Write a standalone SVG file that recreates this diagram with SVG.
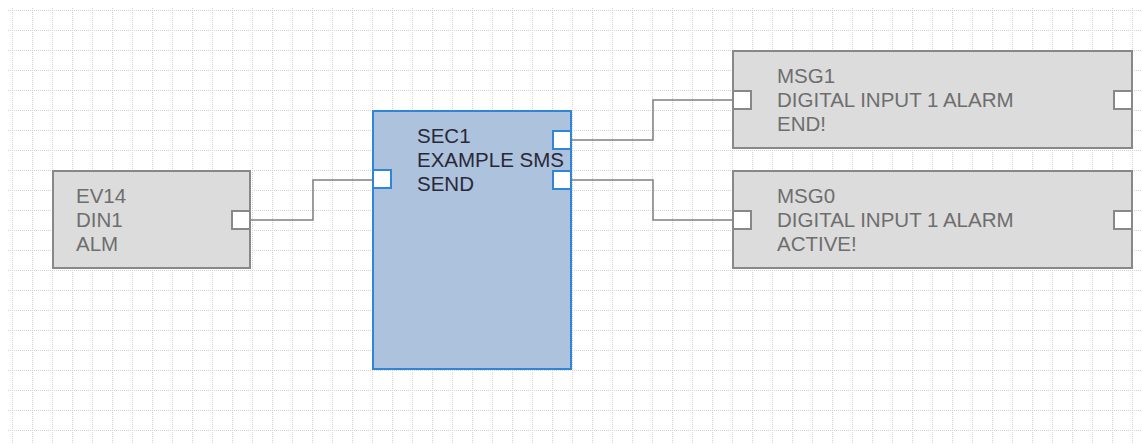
<svg xmlns="http://www.w3.org/2000/svg" width="1142" height="444" viewBox="0 0 1142 444">
<style>
.bg{fill:#ffffff}
.node{fill:#dcdcdc;stroke:#888888;stroke-width:2}
.sel{fill:#adc2dc;stroke:#2f86d8;stroke-width:2}
.port{fill:#ffffff;stroke:#888888;stroke-width:2}
.bport{fill:#ffffff;stroke:#2f86d8;stroke-width:2}
.conn path{fill:none;stroke:#808080;stroke-width:1.5}
text{font-family:"Liberation Sans",Arial,sans-serif;font-size:20.5px}
.t{fill:#6e6e6e}
.ts{fill:#2a2838}
</style>
<defs>
<pattern id="gp" x="12" y="10" width="20" height="20" patternUnits="userSpaceOnUse">
<line x1="0" y1="0.5" x2="20" y2="0.5" stroke="#d3d3d3" stroke-width="1" stroke-dasharray="1 1"/>
<line x1="0.5" y1="0" x2="0.5" y2="20" stroke="#d3d3d3" stroke-width="1" stroke-dasharray="1 1"/>
</pattern>
</defs>
<rect class="bg" x="0" y="0" width="1142" height="444"/>
<rect x="8" y="8" width="1134" height="436" fill="url(#gp)"/>
<g id="connectors" class="conn">
<path d="M251 220 H313 V180 H373"/>
<path d="M571 140 H653 V100 H733"/>
<path d="M571 180 H653 V220 H733"/>
</g>
<g id="EV14">
<rect class="node" x="53" y="171" width="197" height="97"/>
<rect class="port" x="232" y="211" width="18" height="18"/>
<text class="t" x="76" y="203">EV14</text>
<text class="t" x="76" y="227">DIN1</text>
<text class="t" x="76" y="251">ALM</text>
</g>
<g id="SEC1">
<rect class="sel" x="373" y="111" width="198" height="258"/>
<rect class="bport" x="373" y="170" width="18" height="18"/>
<rect class="bport" x="553" y="131" width="18" height="18"/>
<rect class="bport" x="553" y="171" width="18" height="18"/>
<text class="ts" x="417" y="143">SEC1</text>
<text class="ts" x="417" y="167">EXAMPLE SMS</text>
<text class="ts" x="417" y="191">SEND</text>
</g>
<g id="MSG1">
<rect class="node" x="733" y="51" width="399" height="97"/>
<rect class="port" x="733" y="91" width="18" height="18"/>
<rect class="port" x="1114" y="91" width="18" height="18"/>
<text class="t" x="777" y="83">MSG1</text>
<text class="t" x="777" y="107">DIGITAL INPUT 1 ALARM</text>
<text class="t" x="777" y="131">END!</text>
</g>
<g id="MSG0">
<rect class="node" x="733" y="171" width="399" height="97"/>
<rect class="port" x="733" y="211" width="18" height="18"/>
<rect class="port" x="1114" y="211" width="18" height="18"/>
<text class="t" x="777" y="203">MSG0</text>
<text class="t" x="777" y="227">DIGITAL INPUT 1 ALARM</text>
<text class="t" x="777" y="251">ACTIVE!</text>
</g>
</svg>
